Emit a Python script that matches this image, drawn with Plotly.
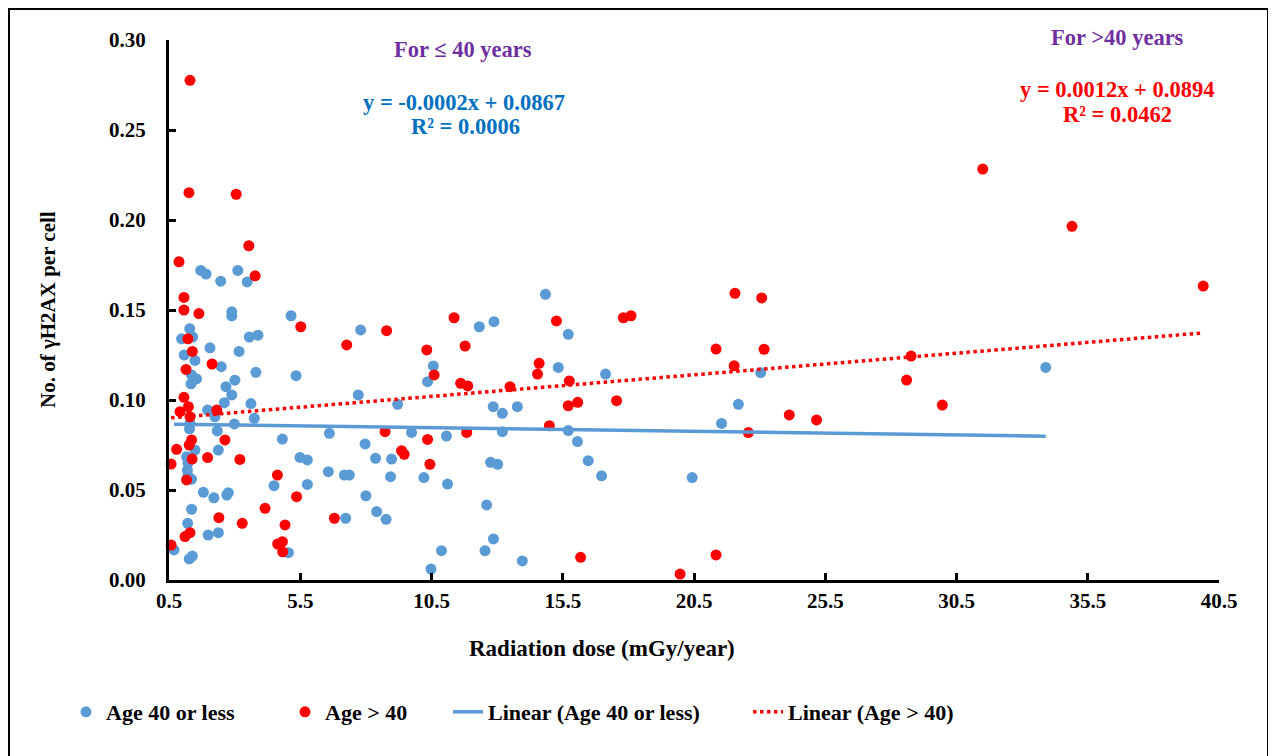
import plotly.graph_objects as go

# ---- data ----
young_dose = [1.71, 1.91, 2.47, 3.12, 3.48, 2.89, 2.89, 5.15, 1.29, 0.98, 1.40, 3.56, 3.89, 2.06, 1.08,
              1.49, 3.17, 2.49, 3.81, 5.34, 1.36, 1.55, 1.34, 3.01, 2.67, 2.89, 2.61, 3.62, 7.71, 1.97,
              2.25, 3.75, 1.30, 1.28, 2.99, 2.34, 2.38, 1.49, 1.17, 1.22, 1.20, 1.22, 1.36, 1.81, 2.21,
              2.70, 2.76, 1.36, 1.21, 1.99, 2.38, 0.69, 1.27, 1.39, 6.61, 4.82, 7.97, 5.49, 5.77, 6.57,
              7.18, 7.37, 4.50, 5.77, 8.00, 7.23, 5.05, 7.80, 14.84, 12.32, 12.88, 15.71, 10.57, 10.35,
              15.33, 17.13, 9.21, 12.85, 13.20, 13.77, 9.74, 11.07, 13.20, 15.71, 16.06, 8.37, 8.98,
              12.75, 13.02, 16.47, 8.94, 10.21, 11.11, 16.98, 8.41, 8.77, 12.60, 10.88, 10.48, 12.54,
              12.86, 13.96, 23.04, 22.19, 21.55, 20.43, 33.90]
young_h2ax = [0.172, 0.170, 0.166, 0.172, 0.1656, 0.149, 0.1467, 0.1468, 0.1396, 0.134, 0.135, 0.135,
              0.136, 0.129, 0.125, 0.122, 0.127, 0.1185, 0.1154, 0.1135, 0.1139, 0.1117, 0.109, 0.111,
              0.1074, 0.1028, 0.0985, 0.098, 0.1028, 0.0944, 0.0907, 0.0898, 0.087, 0.084, 0.0867,
              0.0828, 0.0722, 0.0722, 0.0685, 0.065, 0.061, 0.058, 0.056, 0.0487, 0.0457, 0.0472,
              0.0485, 0.0393, 0.0315, 0.025, 0.0263, 0.0167, 0.0117, 0.0133, 0.0815, 0.0783, 0.0756,
              0.0681, 0.0667, 0.0602, 0.0583, 0.0583, 0.0524, 0.0531, 0.0468, 0.0343, 0.0152, 0.1389,
              0.1587, 0.1407, 0.1435, 0.1365, 0.1189, 0.1102, 0.1181, 0.1144, 0.0976, 0.0963, 0.0926,
              0.0963, 0.082, 0.080, 0.0824, 0.083, 0.0769, 0.0676, 0.0672, 0.0654, 0.0643, 0.0663,
              0.0574, 0.0569, 0.0533, 0.0579, 0.038, 0.0337, 0.0417, 0.0163, 0.0061, 0.0163, 0.0228,
              0.0106, 0.1152, 0.0976, 0.087, 0.0569, 0.1181]

old_dose = [1.30, 1.26, 3.06, 0.88, 3.54, 3.78, 1.07, 1.07, 1.64, 1.22, 1.39, 1.15, 2.14, 1.07, 1.24,
            0.92, 1.30, 2.32, 1.36, 1.27, 0.79, 2.63, 1.38, 1.97, 3.20, 0.58, 1.17, 2.40, 3.29, 4.16,
            1.11, 1.30, 0.58, 5.52, 7.27, 4.63, 5.36, 4.92, 4.64, 4.82, 4.83, 6.80, 8.79, 11.36, 10.32,
            11.78, 10.60, 11.61, 11.88, 13.49, 14.60, 14.54, 15.26, 15.75, 15.71, 16.07, 14.99, 17.55,
            17.81, 18.10, 8.73, 10.35, 11.84, 9.36, 9.46, 10.44, 16.18, 22.06, 23.08, 21.34, 23.17,
            22.03, 22.57, 24.13, 25.17, 28.77, 28.60, 19.97, 21.34, 31.50, 34.90, 39.90, 29.96]
old_h2ax = [0.2776, 0.2152, 0.2143, 0.1768, 0.1857, 0.169, 0.157, 0.150, 0.148, 0.134, 0.127, 0.117,
            0.120, 0.1015, 0.0963, 0.0935, 0.0907, 0.0944, 0.0778, 0.075, 0.0726, 0.0778, 0.0672, 0.068,
            0.067, 0.0644, 0.0556, 0.0346, 0.0315, 0.0398, 0.0241, 0.0263, 0.0194, 0.1407, 0.1306,
            0.0583, 0.0463, 0.0306, 0.020, 0.0213, 0.0157, 0.0343, 0.1385, 0.1457, 0.1278, 0.130,
            0.1139, 0.1093, 0.1078, 0.1074, 0.1204, 0.1144, 0.1439, 0.1106, 0.0968, 0.0987, 0.0857,
            0.0996, 0.1457, 0.1468, 0.0824, 0.0781, 0.082, 0.0718, 0.0698, 0.0643, 0.0126, 0.1593,
            0.1567, 0.1283, 0.1282, 0.119, 0.0819, 0.0917, 0.0889, 0.1244, 0.1111, 0.0033, 0.0139,
            0.2283, 0.1965, 0.1633, 0.0972]

# trendline coefficients as printed on the chart
young_fit = [-0.0002, 0.0867]
old_fit = [0.0012, 0.0894]

x_ticks = [0.5, 5.5, 10.5, 15.5, 20.5, 25.5, 30.5, 35.5, 40.5]
y_ticks = [0.00, 0.05, 0.10, 0.15, 0.20, 0.25, 0.30]

BLUE = "#5B9BD5"
RED = "#FF0000"
FONT = "Liberation Serif"
FS = 21
FS_ANN = 22.5
FS_LEG = 22

young_line_x = [min(young_dose), max(young_dose)]
young_line_y = [young_fit[0] * v + young_fit[1] for v in young_line_x]
old_line_x = [min(old_dose), max(old_dose)]
old_line_y = [old_fit[0] * v + old_fit[1] for v in old_line_x]

fig = go.Figure()
fig.add_trace(go.Scatter(x=young_dose, y=young_h2ax, mode="markers", name="Age 40 or less",
                         marker=dict(color=BLUE, size=11), cliponaxis=False, legend="legend"))
fig.add_trace(go.Scatter(x=old_dose, y=old_h2ax, mode="markers", name="Age > 40",
                         marker=dict(color=RED, size=11), cliponaxis=False, legend="legend2"))
fig.add_trace(go.Scatter(x=young_line_x, y=young_line_y, mode="lines", name="Linear (Age 40 or less)",
                         line=dict(color=BLUE, width=3.5), legend="legend3"))
fig.add_trace(go.Scatter(x=old_line_x, y=old_line_y, mode="lines", name="Linear (Age > 40)",
                         line=dict(color=RED, width=3.5, dash="dot"), legend="legend4"))

# page has an 8px body margin; figure sized so that the page is 1276x756
OFF = 8
W, H = 1276 - OFF, 756 - OFF
L, T = 169 - OFF, 40 - OFF
R = W - (1219 - OFF)
B = H - (580 - OFF)
pw, ph = W - L - R, H - T - B


def px(xp):  # reference page pixel -> paper x
    return (xp - OFF - L) / pw


def py(yp):  # reference page pixel -> paper y
    return (H - B - (yp - OFF)) / ph


def leg(xpage):
    return dict(orientation="h", x=px(xpage), y=py(712), xanchor="left", yanchor="middle",
                font=dict(family=FONT, size=FS_LEG, color="black", weight="bold"),
                bgcolor="rgba(0,0,0,0)")


tickfont = dict(family=FONT, size=FS, color="black", weight="bold")
fig.update_layout(
    width=W, height=H,
    margin=dict(l=L, r=R, t=T, b=B),
    paper_bgcolor="white", plot_bgcolor="white",
    font=dict(family=FONT, size=FS, color="black"),
    showlegend=True,
    legend=leg(66), legend2=leg(285), legend3=leg(448), legend4=leg(748),
    xaxis=dict(range=[0.5, 40.5], tickvals=x_ticks, ticktext=[f"{v:.1f}" for v in x_ticks],
               showgrid=False, zeroline=False, showline=True, linecolor="black", linewidth=3,
               ticks="inside", ticklen=7, tickwidth=3, tickcolor="black", tickfont=tickfont),
    yaxis=dict(range=[0, 0.30], tickvals=y_ticks, ticktext=[f"{v:.2f}" for v in y_ticks],
               showgrid=False, zeroline=False, showline=True, linecolor="black", linewidth=3,
               ticks="inside", ticklen=7, tickwidth=3, tickcolor="black", ticklabelstandoff=16,
               tickfont=tickfont),
)

ann = [
    dict(text="<b>No. of γH2AX per cell</b>", x=px(48), y=py(310), textangle=-90, size=21, color="black"),
    dict(text="<b>Radiation dose (mGy/year)</b>", x=px(602), y=py(648), size=23, color="black"),
    dict(text="<b>For ≤ 40 years</b>", x=px(463), y=py(50), size=FS_ANN, color="#7030A0"),
    dict(text="<b>y = -0.0002x + 0.0867</b>", x=px(464), y=py(102), size=FS_ANN, color="#0070C0"),
    dict(text="<b>R² = 0.0006</b>", x=px(465), y=py(127), size=FS_ANN, color="#0070C0"),
    dict(text="<b>For >40 years</b>", x=px(1117), y=py(37), size=FS_ANN, color="#7030A0"),
    dict(text="<b>y = 0.0012x + 0.0894</b>", x=px(1117), y=py(89), size=FS_ANN, color=RED),
    dict(text="<b>R² = 0.0462</b>", x=px(1117), y=py(114), size=FS_ANN, color=RED),
]
for a in ann:
    fig.add_annotation(text=a["text"], x=a["x"], y=a["y"], xref="paper", yref="paper",
                       xanchor="center", yanchor="middle", showarrow=False,
                       textangle=a.get("textangle", 0),
                       font=dict(family=FONT, size=a["size"], color=a["color"]))

fig.add_shape(type="rect", xref="paper", yref="paper",
              x0=px(9), x1=px(1268), y0=py(775), y1=py(9),
              line=dict(color="black", width=2), fillcolor="rgba(0,0,0,0)", layer="below")

fig.write_html("out.html")
